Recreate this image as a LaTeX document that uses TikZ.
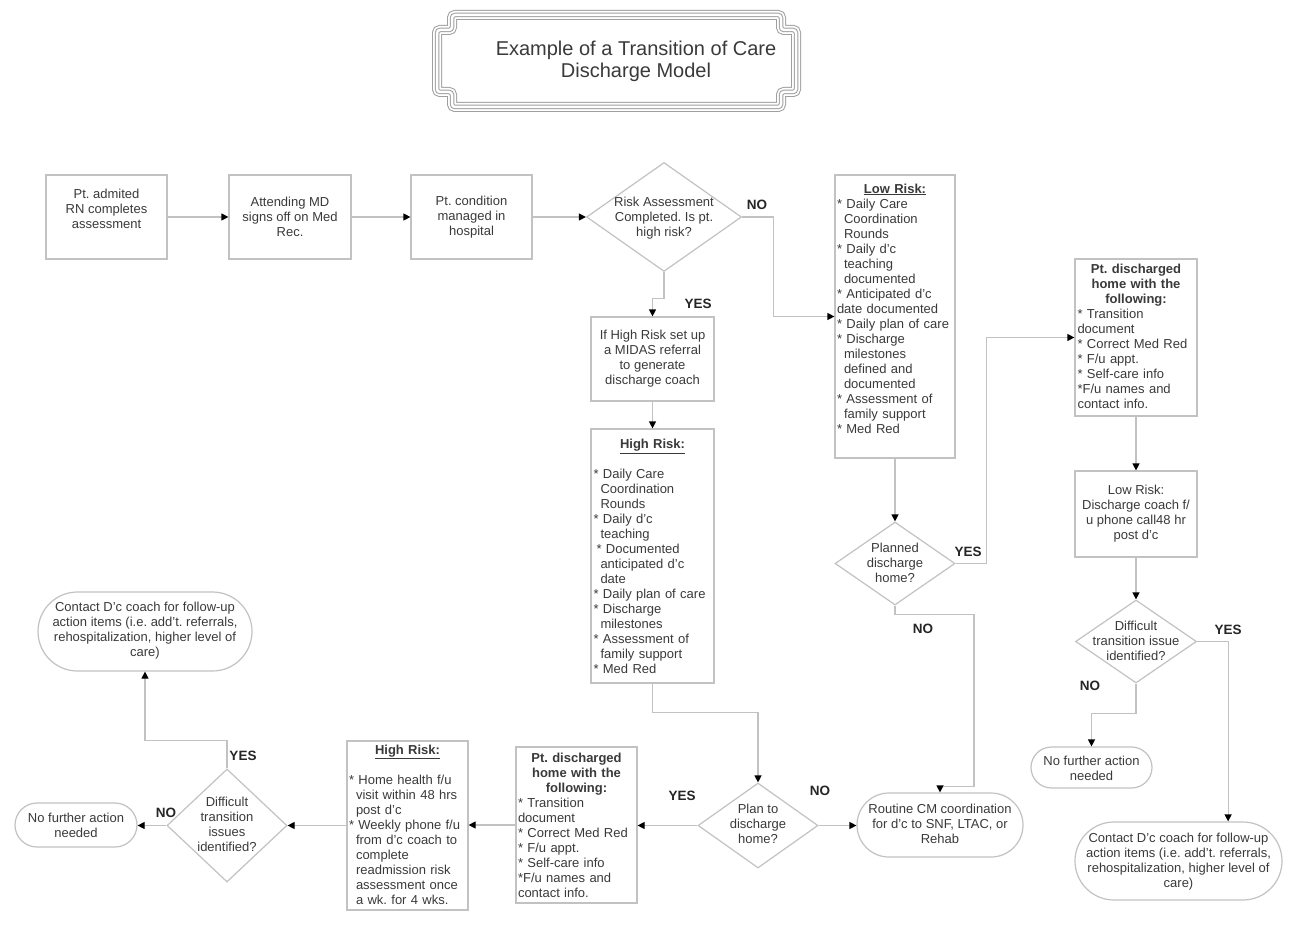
\documentclass[tikz,border=0pt]{standalone}
\usepackage{fontspec}
\setmainfont{Liberation Sans}
\usetikzlibrary{shapes.geometric,shapes.misc,arrows.meta}
\definecolor{ln}{HTML}{C2C2C2}
\definecolor{tx}{HTML}{3A3A3A}
\setlength{\parindent}{0pt}
\newcommand\ind{\hspace*{7pt}}
\begin{document}
\frenchspacing
\begin{tikzpicture}[x=1pt,y=-1pt,
  bx/.style={draw=ln, line width=1.2pt, fill=white, inner sep=0pt},
  dia/.style={bx, diamond},
  stad/.style={bx, rounded rectangle},
  tx/.style={text=tx, font=\fontsize{13}{15}\selectfont, inner sep=0pt, align=center},
  txl/.style={text=tx, font=\fontsize{13}{15}\selectfont, inner sep=0pt, align=left},
  lab/.style={font=\fontsize{13.5}{15}\selectfont\bfseries, text=black!85, inner sep=0pt},
  con/.style={draw=ln, line width=1.2pt, -{Triangle[length=7pt,width=7pt,color=black]}}]
\useasboundingbox (0,0) rectangle (1305,933);
\fill[white] (0,0) rectangle (1305,933);

% title frame
\foreach \w/\c in {10/gray!75, 8/white, 4.5/gray!75, 2.5/white}{
  \draw[line width=\w pt, draw=\c, rounded corners=3pt]
    (452,15) -- (781,15) -- (781,30) -- (796,30) -- (796,92) -- (781,92) -- (781,107)
    -- (452,107) -- (452,92) -- (437,92) -- (437,30) -- (452,30) -- cycle;
}
\node[text=tx, font=\fontsize{20}{22}\selectfont, inner sep=0pt, align=center] (title) at (636,61) {Example of a Transition of Care\\Discharge Model};

% row 1
\node[bx, minimum width=121pt, minimum height=84pt] (b1) at (106.5,217) {};
\node[tx] (b1t) at (106.5,209) {Pt. admited\\RN completes\\assessment};
\node[bx, minimum width=122pt, minimum height=84pt] (b2) at (290,217) {};
\node[tx] (b2t) at (290,217) {Attending MD\\signs off on Med\\Rec.};
\node[bx, minimum width=121pt, minimum height=84pt] (b3) at (471.5,217) {};
\node[tx] (b3t) at (471.5,217) {Pt. condition\\managed in\\hospital};
\node[dia, minimum width=155pt, minimum height=109pt] (d1) at (664,217) {};
\node[tx] (d1t) at (664,218) {Risk Assessment\\Completed. Is pt.\\high risk?};

\draw[con] (b1.east) -- (b2.west);
\draw[con] (b2.east) -- (b3.west);
\draw[con] (b3.east) -- (d1.west);

% low risk
\node[bx, minimum width=120pt, minimum height=283pt] (lr) at (895,316.5) {};
\node[txl, text width=116pt] (lrt) at (895,308.5) {\centering\underline{\textbf{Low Risk:}}\par
\raggedright
{*} Daily Care\\
\ind Coordination\\
\ind Rounds\\
{*} Daily d’c\\
\ind teaching\\
\ind documented\\
{*} Anticipated d’c\\
date documented\\
{*} Daily plan of care\\
{*} Discharge\\
\ind milestones\\
\ind defined and\\
\ind documented\\
{*} Assessment of\\
\ind family support\\
{*} Med Red};
\draw[con] (d1.east) -- ++(31,0) |- (lr.west);
\node[lab] (no1) at (757,205) {NO};

% MIDAS and high risk
\node[bx, minimum width=123pt, minimum height=84pt] (mid) at (652.5,359) {};
\node[tx] (midt) at (652.5,358.5) {If High Risk set up\\a MIDAS referral\\to generate\\discharge coach};
\draw[con] (d1.south) -- ++(0,26) -| (mid.north);
\node[lab] (yes1) at (698,304) {YES};

\node[bx, minimum width=123pt, minimum height=254pt] (hr) at (652.5,556) {};
\node[txl, text width=118pt] (hrt) at (652.5,556.5) {\centering\underline{\textbf{High Risk:}}\\\mbox{}\par
\raggedright
{*} Daily Care\\
\ind Coordination\\
\ind Rounds\\
{*} Daily d’c\\
\ind teaching\\
\hspace*{3pt}{*} Documented\\
\ind anticipated d’c\\
\ind date\\
{*} Daily plan of care\\
{*} Discharge\\
\ind milestones\\
{*} Assessment of\\
\ind family support\\
{*} Med Red};
\draw[con] (mid.south) -- (hr.north);

% planned discharge home
\node[dia, minimum width=120pt, minimum height=83pt] (pd) at (895,563.5) {};
\node[tx] (pdt) at (895,563) {Planned\\discharge\\home?};
\draw[con] (lr.south) -- (pd.north);

\node[bx, minimum width=122pt, minimum height=157pt] (rd) at (1136,337.5) {};
\node[txl, text width=117pt] (rdt) at (1136,336.5) {\centering\textbf{Pt. discharged}\\\textbf{home with the}\\\textbf{following:}\par
\raggedright
{*} Transition\\
document\\
{*} Correct Med Red\\
{*} F/u appt.\\
{*} Self-care info\\
{*}F/u names and\\
contact info.};
\draw[con] (pd.east) -- ++(31,0) |- (rd.west);
\node[lab] (yes2) at (968,552) {YES};

\node[bx, minimum width=122pt, minimum height=86pt] (lc) at (1136,514) {};
\node[tx] (lct) at (1136,514) {Low Risk:\\Discharge coach f/\\u phone call48 hr\\post d’c};
\draw[con] (rd.south) -- (lc.north);

\node[dia, minimum width=121pt, minimum height=83pt] (d3) at (1136,641.5) {};
\node[tx] (d3t) at (1136,641) {Difficult\\transition issue\\identified?};
\draw[con] (lc.south) -- (d3.north);

\node[stad, minimum width=207pt, minimum height=78pt] (cr) at (1178.5,861) {};
\node[tx] (crt) at (1178.5,861.5) {Contact D’c coach for follow-up\\action items (i.e. add’t. referrals,\\rehospitalization, higher level of\\care)};
\draw[con] (d3.east) -- ++(31,0) coordinate (k1) -- (k1 |- cr.north);
\node[lab] (yes3) at (1228,630) {YES};

\node[stad, minimum width=121pt, minimum height=41pt] (nr) at (1091.5,767.5) {};
\node[tx] (nrt) at (1091.5,768) {No further action\\needed};
\draw[con] (d3.south) -- ++(0,30) -| (nr.north);
\node[lab] (no3) at (1090,686) {NO};

% routine
\node[stad, minimum width=166pt, minimum height=64pt] (rc) at (940,825) {};
\node[tx] (rct) at (940,824) {Routine CM coordination\\for d’c to SNF, LTAC, or\\Rehab};
\draw[con] (pd.south) -- ++(0,9) -| ++(79,172) -| (rc.north);
\node[lab] (no2) at (923,629) {NO};

% plan to discharge home
\node[dia, minimum width=120pt, minimum height=85pt] (pdh) at (758,825.5) {};
\node[tx] (pdht) at (758,824) {Plan to\\discharge\\home?};
\draw[con] (hr.south) -- ++(0,29) -| (pdh.north);
\draw[con] (pdh.east) -- (pdh.east -| rc.west);
\node[lab] (yes4) at (682,796) {YES};
\node[lab] (no4) at (820,791) {NO};

\node[bx, minimum width=121pt, minimum height=156pt] (ld) at (576.5,825) {};
\node[txl, text width=117pt] (ldt) at (576.5,825) {\centering\textbf{Pt. discharged}\\\textbf{home with the}\\\textbf{following:}\par
\raggedright
{*} Transition\\
document\\
{*} Correct Med Red\\
{*} F/u appt.\\
{*} Self-care info\\
{*}F/u names and\\
contact info.};
\draw[con] (pdh.west) -- (pdh.west -| ld.east);

\node[bx, minimum width=121pt, minimum height=169pt] (hb) at (407.5,825.5) {};
\node[txl, text width=117pt] (hbt) at (407.5,824.5) {\centering\underline{\textbf{High Risk:}}\\\mbox{}\par
\raggedright
{*} Home health f/u\\
\ind visit within 48 hrs\\
\ind post d’c\\
{*} Weekly phone f/u\\
\ind from d’c coach to\\
\ind complete\\
\ind readmission risk\\
\ind assessment once\\
\ind a wk. for 4 wks.};
\draw[con] (ld.west) -- (ld.west -| hb.east);

\node[dia, minimum width=120pt, minimum height=113pt] (dl) at (227,825.5) {};
\node[tx] (dlt) at (227,824.5) {Difficult\\transition\\issues\\identified?};
\draw[con] (hb.west) -- (hb.west -| dl.east);

\node[stad, minimum width=122pt, minimum height=44pt] (nl) at (76,825) {};
\node[tx] (nlt) at (76,825) {No further action\\needed};
\draw[con] (dl.west) -- (dl.west -| nl.east);
\node[lab] (no5) at (166,813) {NO};

\node[stad, minimum width=214pt, minimum height=79pt] (cl) at (145,631.5) {};
\node[tx] (clt) at (145,630.5) {Contact D’c coach for follow-up\\action items (i.e. add’t. referrals,\\rehospitalization, higher level of\\care)};
\draw[con] (dl.north) -- ++(0,-28) -| (cl.south);
\node[lab] (yes5) at (243,756) {YES};
\end{tikzpicture}
\end{document}
